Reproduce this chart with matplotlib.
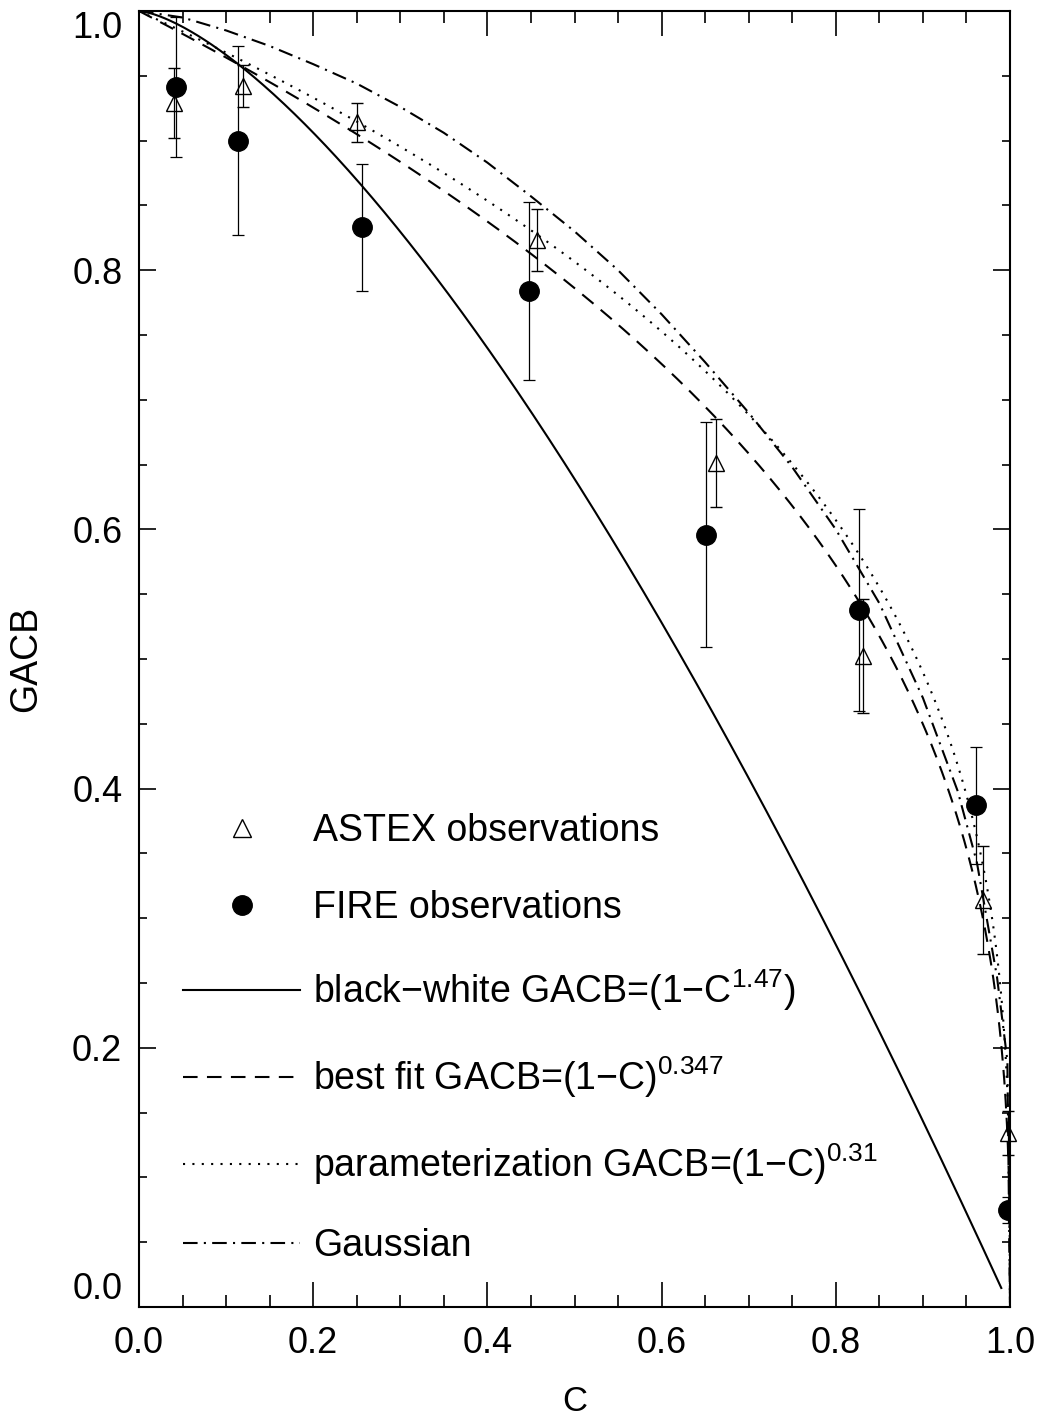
import numpy as np
import matplotlib
matplotlib.use('Agg')
import matplotlib.pyplot as plt
from matplotlib.lines import Line2D
from matplotlib.ticker import MultipleLocator

# ---------------- data ----------------
astex_c = [0.040, 0.119, 0.250, 0.457, 0.662, 0.831, 0.969, 0.998]
astex_g = [0.929, 0.942, 0.914, 0.823, 0.651, 0.502, 0.314, 0.134]
astex_err = [0.027, 0.016, 0.015, 0.024, 0.034, 0.044, 0.042, 0.017]

fire_c = [0.042, 0.114, 0.256, 0.448, 0.651, 0.827, 0.961, 0.998]
fire_g = [0.941, 0.900, 0.833, 0.784, 0.596, 0.538, 0.387, 0.075]
fire_err = [0.054, 0.073, 0.049, 0.069, 0.087, 0.078, 0.045, 0.010]

bw_exp = 1.47      # black-white GACB = 1 - C^1.47
fit_exp = 0.347    # best fit GACB = (1-C)^0.347
param_exp = 0.31   # parameterization GACB = (1-C)^0.31
bw_cmax = 0.99

gauss_c = [0.0, 0.05, 0.10, 0.15, 0.20, 0.25, 0.30, 0.35, 0.40, 0.45, 0.50,
           0.55, 0.60, 0.65, 0.70, 0.75, 0.80, 0.85, 0.90, 0.94, 0.962,
           0.985, 0.997, 1.0]
gauss_g = [1.0, 0.995, 0.985, 0.973, 0.959, 0.944, 0.926, 0.906, 0.883, 0.857,
           0.830, 0.800, 0.766, 0.729, 0.690, 0.648, 0.600, 0.543, 0.470, 0.398,
           0.343, 0.255, 0.190, 0.0]

xticks = [0.0, 0.2, 0.4, 0.6, 0.8, 1.0]
yticks = [0.0, 0.2, 0.4, 0.6, 0.8, 1.0]

labels = ['ASTEX observations',
          'FIRE observations',
          'black\u2212white GACB=(1\u2212C$^{1.47}$)',
          'best fit GACB=(1\u2212C)$^{0.347}$',
          'parameterization GACB=(1\u2212C)$^{0.31}$',
          'Gaussian']

# ---------------- style ----------------
plt.rcParams['font.family'] = ['Liberation Sans', 'DejaVu Sans']
plt.rcParams['mathtext.fontset'] = 'custom'
plt.rcParams['mathtext.rm'] = 'Liberation Sans'
plt.rcParams['mathtext.it'] = 'Liberation Sans'
plt.rcParams['mathtext.bf'] = 'Liberation Sans'

fig = plt.figure(figsize=(10.45, 14.21), dpi=100)
ax = fig.add_axes([139/1045, (1421-1307)/1421, 871/1045, 1296/1421])

lw = 1.5
ls_dash = (0, (7, 4.5))
ls_dot = (0, (1, 3.5))
ls_dashdot = (0, (7, 3, 1, 3))

c_bw = np.linspace(0, bw_cmax, 500)
c_all = np.linspace(0, 1, 2001)
ax.plot(c_bw, 1 - c_bw**bw_exp, color='k', lw=lw, ls='-')
ax.plot(c_all, (1 - c_all)**fit_exp, color='k', lw=lw, ls=ls_dash)
ax.plot(c_all, (1 - c_all)**param_exp, color='k', lw=lw, ls=ls_dot)
ax.plot(gauss_c, gauss_g, color='k', lw=lw, ls=ls_dashdot)

ax.errorbar(astex_c, astex_g, yerr=astex_err, fmt='^', mfc='none', mec='k',
            ms=12, mew=1.0, ecolor='k', elinewidth=0.9, capsize=4, capthick=0.9,
            clip_on=False, zorder=3)
ax.errorbar(fire_c, fire_g, yerr=fire_err, fmt='o', color='k', ms=14,
            ecolor='k', elinewidth=0.9, capsize=4, capthick=0.9, zorder=3)

ax.set_xlim(0, 1)
ax.set_ylim(0, 1)

ax.set_xticks(xticks, ['%.1f' % v for v in xticks])
ax.set_yticks(yticks, ['%.1f' % v for v in yticks])
ax.xaxis.set_minor_locator(MultipleLocator(0.05))
ax.yaxis.set_minor_locator(MultipleLocator(0.05))
ax.tick_params(axis='x', which='major', direction='in', length=18, width=1.2,
               top=True, pad=14, labelsize=26)
ax.tick_params(axis='x', which='minor', direction='in', length=8.6, width=1.2, top=True)
ax.tick_params(axis='y', which='major', direction='in', length=12.2, width=1.2,
               right=True, pad=12, labelsize=26)
ax.tick_params(axis='y', which='minor', direction='in', length=6, width=1.2, right=True)
ylabs = ax.get_yticklabels()
ylabs[0].set_va('bottom')
ylabs[-1].set_va('top')

for s in ax.spines.values():
    s.set_linewidth(1.5)

ax.set_xlabel('C', fontsize=25, labelpad=17)
ax.set_ylabel('GACB', fontsize=27, labelpad=20)

handles = [
    Line2D([], [], ls='none', marker='^', mfc='none', mec='k', ms=13, mew=1.0),
    Line2D([], [], ls='none', marker='o', color='k', ms=14),
    Line2D([], [], color='k', lw=lw, ls='-'),
    Line2D([], [], color='k', lw=lw, ls=ls_dash),
    Line2D([], [], color='k', lw=lw, ls=ls_dot),
    Line2D([], [], color='k', lw=lw, ls=ls_dashdot),
]
ax.legend(handles, labels, loc='upper left', bbox_to_anchor=(0.051, 0.381),
          frameon=False, handlelength=3.1, handletextpad=0.35, labelspacing=1.1,
          fontsize=27, borderpad=0, borderaxespad=0)

fig.savefig('out.png', dpi=100)
